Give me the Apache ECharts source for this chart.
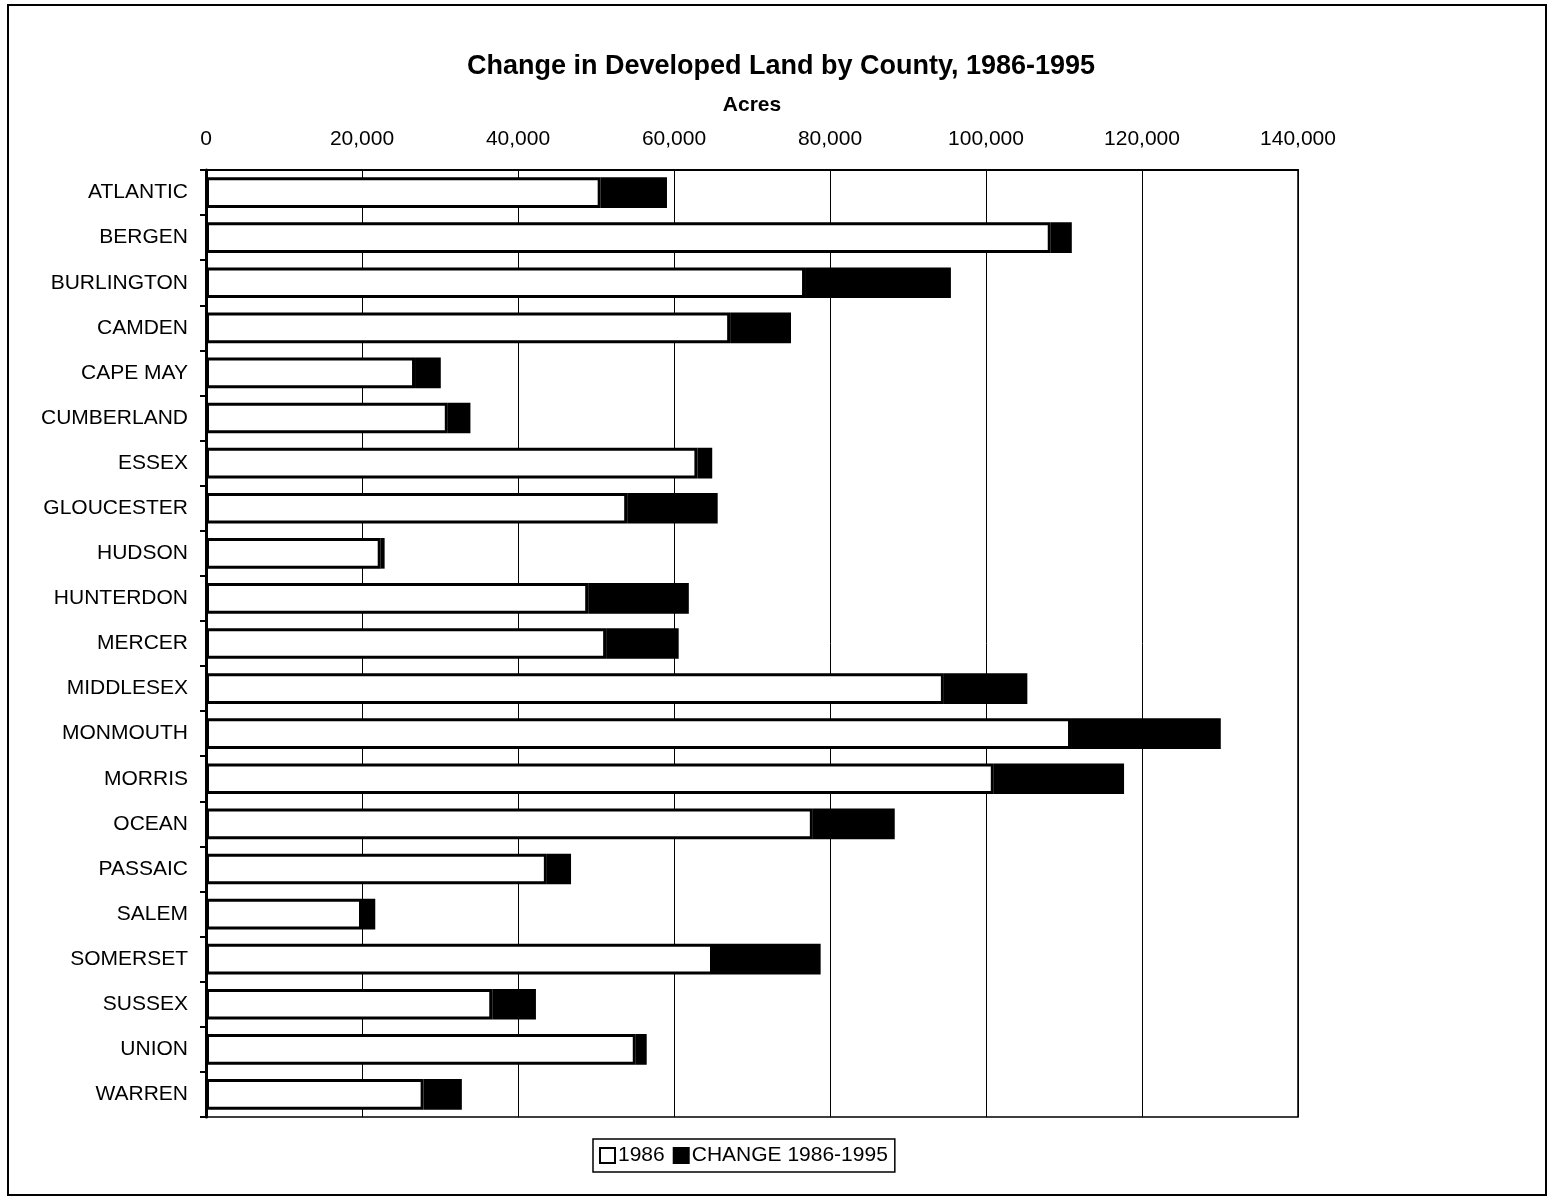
<!DOCTYPE html>
<html><head><meta charset="utf-8">
<script src="https://cdn.jsdelivr.net/npm/echarts@6/dist/echarts.min.js"></script>
<style>html,body{margin:0;padding:0;background:#fff}#c{width:1548px;height:1198px}</style>
</head><body><div id="c"></div>
<script>
const categories = ["ATLANTIC","BERGEN","BURLINGTON","CAMDEN","CAPE MAY","CUMBERLAND","ESSEX","GLOUCESTER","HUDSON","HUNTERDON","MERCER","MIDDLESEX","MONMOUTH","MORRIS","OCEAN","PASSAIC","SALEM","SOMERSET","SUSSEX","UNION","WARREN"];
const acres1986 = [50600,108300,76800,67200,26800,31000,63000,54000,22400,49000,51300,94600,110900,101000,77800,43700,20000,65000,36700,55100,27900];
const change8695 = [8500,2700,18700,7800,3300,2900,1900,11600,500,12900,9300,10700,19200,16700,10500,3100,1700,13800,5600,1400,4900];
const xTicks = {min:0, max:140000, interval:20000};

const chart = echarts.init(document.getElementById('c'));
const font = 'Liberation Sans, Arial, sans-serif';
chart.setOption({
  animation:false,
  backgroundColor:'#fff',
  title:{text:'Change in Developed Land by County, 1986-1995', left:776, top:48, textAlign:'center',
    textStyle:{fontFamily:font, fontSize:27, fontWeight:'bold', color:'#000'}},
  graphic:[{type:'rect', shape:{x:8,y:5,width:1538,height:1190}, style:{fill:'none', stroke:'#000', lineWidth:2}}],
  legend:{top:1139, left:593, itemWidth:15, itemHeight:15, itemGap:8, icon:'rect',
    borderColor:'#000', borderWidth:1.5, padding:[6,7,6,6],
    itemStyle:{borderWidth:2, borderColor:'#000'},
    textStyle:{fontFamily:font, fontSize:21, color:'#000', padding:[0,0,0,-2]},
    data:[{name:'1986'},{name:'CHANGE 1986-1995'}]},
  grid:{left:206, right:250, top:170, bottom:81, show:true, borderColor:'#000', borderWidth:1.5},
  xAxis:{type:'value', position:'top', min:xTicks.min, max:xTicks.max, interval:xTicks.interval,
    name:'Acres', nameLocation:'middle', nameGap:54,
    nameTextStyle:{fontFamily:font, fontSize:21, fontWeight:'bold', color:'#000'},
    axisLine:{show:true, lineStyle:{color:'#000', width:2}},
    axisTick:{show:true, inside:true, length:6, lineStyle:{color:'#000'}},
    splitLine:{show:true, lineStyle:{color:'#000', width:1}},
    axisLabel:{fontFamily:font, fontSize:21, color:'#000', margin:20,
      formatter:v=>v.toLocaleString('en-US')}},
  yAxis:{type:'category', data:categories, inverse:true,
    axisLine:{show:true, lineStyle:{color:'#000', width:3}},
    axisTick:{show:true, length:6, lineStyle:{color:'#000', width:2}},
    axisLabel:{fontFamily:font, fontSize:21, color:'#000', margin:18}},
  series:[
    {name:'1986', type:'bar', stack:'a', data:acres1986, barWidth:'68%',
      itemStyle:{color:'#fff', borderColor:'#000', borderWidth:3}},
    {name:'CHANGE 1986-1995', type:'bar', stack:'a', data:change8695, barWidth:'68%',
      itemStyle:{color:'#000', borderColor:'#000', borderWidth:3}}
  ]
});
</script></body></html>
